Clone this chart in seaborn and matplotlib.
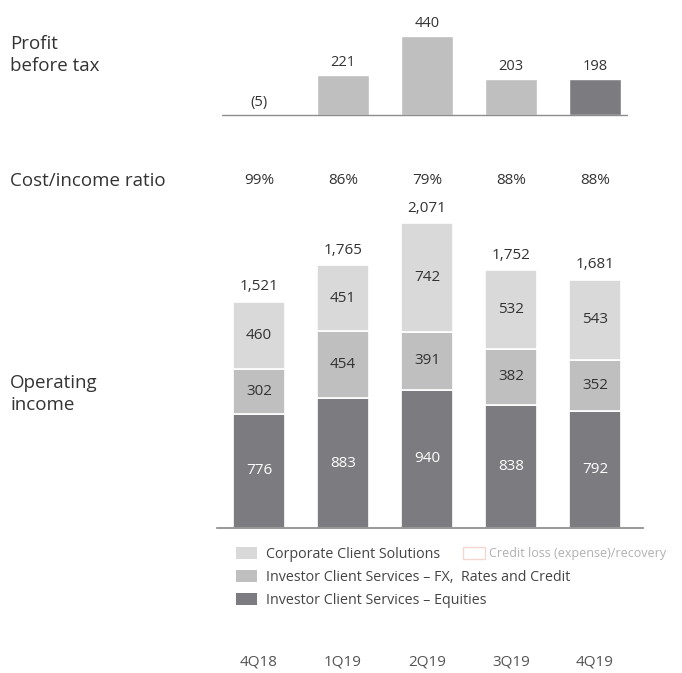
import matplotlib
matplotlib.use("Agg")
import matplotlib.pyplot as plt
import matplotlib.patches as mpatches
import seaborn as sns
import numpy as np
import pandas as pd

quarters = ["4Q18", "1Q19", "2Q19", "3Q19", "4Q19"]
profit_before_tax = [-5, 221, 440, 203, 198]
cost_income_ratio = [99, 86, 79, 88, 88]
equities = [776, 883, 940, 838, 792]
fx_rates_credit = [302, 454, 391, 382, 352]
corporate_client = [460, 451, 742, 532, 543]
operating_income = [1521, 1765, 2071, 1752, 1681]

c_light = "#d9d9d9"
c_mid = "#bfbfbf"
c_dark = "#7c7c80"
c_text = "#333333"

sns.set_theme(style="white")
plt.rcParams["font.family"] = ["Open Sans", "DejaVu Sans"]

W, H = 682, 673
fig = plt.figure(figsize=(W / 100, H / 100), dpi=100)


def px_axes(left, top, right, bottom):
    return fig.add_axes([left / W, 1 - bottom / H, (right - left) / W, (bottom - top) / H])


bw = 0.62

# Profit before tax
ax1 = px_axes(222, 20, 628, 125)
pbt_colors = [c_light, c_mid, c_mid, c_mid, c_dark]
df_pbt = pd.DataFrame({"q": quarters, "v": profit_before_tax})
sns.barplot(data=df_pbt, x="q", y="v", hue="q", palette=pbt_colors, legend=False,
            width=bw, ax=ax1, saturation=1)
scale1 = 79 / 440
ax1.set_xlim(-0.44, 4.39)
ax1.set_ylim(-10 / scale1, 95 / scale1)
ax1.axhline(0, color="#8c8c8c", lw=1)
for i, v in enumerate(profit_before_tax):
    lab = f"({abs(v)})" if v < 0 else f"{v}"
    ax1.text(i, max(v, 0) + 28, lab, ha="center", va="bottom", fontsize=10.5, color=c_text)
ax1.axis("off")

# Operating income
ax2 = px_axes(217, 200, 643, 528)
scale2 = 305 / 2073
ax2.set_ylim(0, 328 / scale2)
layers = [(equities, c_dark, "white"), (fx_rates_credit, c_mid, c_text), (corporate_client, c_light, c_text)]
bottom = np.zeros(len(quarters))
for vals, col, tcol in layers:
    df = pd.DataFrame({"q": quarters, "v": vals})
    sns.barplot(data=df, x="q", y="v", color=col, bottom=bottom, width=bw, ax=ax2,
                saturation=1, edgecolor="white", linewidth=1.2)
    for i, v in enumerate(vals):
        ax2.text(i, bottom[i] + v / 2, f"{v}", ha="center", va="center", fontsize=11, color=tcol)
    bottom = bottom + np.array(vals)
for i, t in enumerate(operating_income):
    ax2.text(i, bottom[i] + 50, f"{t:,}", ha="center", va="bottom", fontsize=11, color=c_text)
ax2.set_xlim(-0.5, 4.57)
for s in ["top", "right", "left"]:
    ax2.spines[s].set_visible(False)
ax2.spines["bottom"].set_color("#8c8c8c")
ax2.set_xticks([])
ax2.set_yticks([])
ax2.set_xlabel("")
ax2.set_ylabel("")

# Row labels and ratios
fig.text(10 / W, 1 - 55 / H, "Profit\nbefore tax", ha="left", va="center", fontsize=13.5,
         color=c_text, linespacing=1.25)
fig.text(10 / W, 1 - 181 / H, "Cost/income ratio", ha="left", va="center", fontsize=13.5, color=c_text)
fig.text(10 / W, 1 - 394 / H, "Operating\nincome", ha="left", va="center", fontsize=13.5,
         color=c_text, linespacing=1.25)
for i, r in enumerate(cost_income_ratio):
    fig.text((259 + 84 * i) / W, 1 - 181 / H, f"{r}%", ha="center", va="center", fontsize=11, color=c_text)
for i, q in enumerate(quarters):
    fig.text((259 + 84 * i) / W, 1 - 662 / H, q, ha="center", va="center", fontsize=11, color="#555555")

# Legend
handles = [
    mpatches.Patch(facecolor=c_light, edgecolor="none", label="Corporate Client Solutions"),
    mpatches.Patch(facecolor=c_mid, edgecolor="none", label="Investor Client Services \u2013 FX,  Rates and Credit"),
    mpatches.Patch(facecolor=c_dark, edgecolor="none", label="Investor Client Services \u2013 Equities"),
]
leg = fig.legend(handles=handles, bbox_to_anchor=(236 / W, 1 - 547 / H), loc="upper left",
                 frameon=False, fontsize=10.3, handlelength=1.5, handleheight=0.9,
                 handletextpad=0.6, labelspacing=0.55, borderpad=0, borderaxespad=0)
for t in leg.get_texts():
    t.set_color("#444444")
leg2 = fig.legend(handles=[mpatches.Patch(facecolor="white", edgecolor="#f2d8d0", lw=1,
                                          label="Credit loss (expense)/recovery")],
                  bbox_to_anchor=(463 / W, 1 - 547 / H), loc="upper left", frameon=False,
                  fontsize=9, handlelength=1.75, handleheight=1.05, handletextpad=0.35,
                  borderpad=0, borderaxespad=0)
leg2.get_texts()[0].set_color("#b0b0b0")

fig.savefig("out.png", dpi=100)
